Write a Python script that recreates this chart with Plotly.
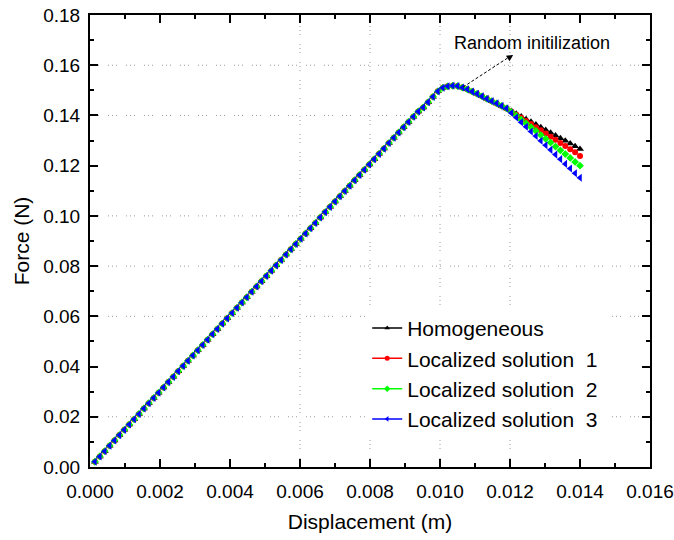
import plotly.graph_objects as go

# displacement (m) – sampled every 0.00014 m
displacement = [
    0.00014, 0.00028, 0.00042, 0.00056, 0.00070, 0.00084, 0.00098, 0.00112, 0.00126, 0.00140,
    0.00154, 0.00168, 0.00182, 0.00196, 0.00210, 0.00224, 0.00238, 0.00252, 0.00266, 0.00280,
    0.00294, 0.00308, 0.00322, 0.00336, 0.00350, 0.00364, 0.00378, 0.00392, 0.00406, 0.00420,
    0.00434, 0.00448, 0.00462, 0.00476, 0.00490, 0.00504, 0.00518, 0.00532, 0.00546, 0.00560,
    0.00574, 0.00588, 0.00602, 0.00616, 0.00630, 0.00644, 0.00658, 0.00672, 0.00686, 0.00700,
    0.00714, 0.00728, 0.00742, 0.00756, 0.00770, 0.00784, 0.00798, 0.00812, 0.00826, 0.00840,
    0.00854, 0.00868, 0.00882, 0.00896, 0.00910, 0.00924, 0.00938, 0.00952, 0.00966, 0.00980,
    0.00994, 0.01008, 0.01022, 0.01036, 0.01050, 0.01064, 0.01078, 0.01092, 0.01106, 0.01120,
    0.01134, 0.01148, 0.01162, 0.01176, 0.01190, 0.01204, 0.01218, 0.01232, 0.01246, 0.01260,
    0.01274, 0.01288, 0.01302, 0.01316, 0.01330, 0.01344, 0.01358, 0.01372, 0.01386, 0.01400,
]

# force (N) shared by all four runs up to the start of softening
force_common = [
    0.0021, 0.0042, 0.0063, 0.0085, 0.0106, 0.0127, 0.0148, 0.0169, 0.0190, 0.0211,
    0.0233, 0.0254, 0.0275, 0.0296, 0.0317, 0.0338, 0.0359, 0.0381, 0.0402, 0.0423,
    0.0444, 0.0465, 0.0486, 0.0507, 0.0529, 0.0550, 0.0571, 0.0592, 0.0613, 0.0634,
    0.0655, 0.0676, 0.0698, 0.0719, 0.0740, 0.0761, 0.0782, 0.0803, 0.0824, 0.0846,
    0.0867, 0.0888, 0.0909, 0.0930, 0.0951, 0.0972, 0.0994, 0.1015, 0.1036, 0.1057,
    0.1078, 0.1099, 0.1120, 0.1142, 0.1163, 0.1184, 0.1205, 0.1226, 0.1247, 0.1268,
    0.1290, 0.1311, 0.1332, 0.1353, 0.1374, 0.1395, 0.1416, 0.1432, 0.1453, 0.1474,
    0.1496, 0.1510, 0.1516, 0.1518, 0.1517, 0.1511, 0.1504, 0.1495, 0.1486, 0.1476,
    0.1466, 0.1457, 0.1448, 0.1438, 0.1428,
]

# softening tails (last 15 points)
tail_homogeneous = [0.1418, 0.1407, 0.1396, 0.1385, 0.1375, 0.1364, 0.1353, 0.1342,
                    0.1331, 0.1320, 0.1309, 0.1299, 0.1288, 0.1277, 0.1266]
tail_local1 = [0.1416, 0.1403, 0.1391, 0.1378, 0.1366, 0.1353, 0.1341, 0.1328,
               0.1315, 0.1303, 0.1290, 0.1278, 0.1265, 0.1253, 0.1238]
tail_local2 = [0.1414, 0.1399, 0.1383, 0.1368, 0.1353, 0.1338, 0.1322, 0.1307,
               0.1292, 0.1276, 0.1261, 0.1246, 0.1231, 0.1215, 0.1200]
tail_local3 = [0.1410, 0.1392, 0.1373, 0.1355, 0.1336, 0.1318, 0.1299, 0.1281,
               0.1263, 0.1244, 0.1226, 0.1207, 0.1189, 0.1170, 0.1152]

series = [
    ("Homogeneous", tail_homogeneous, "#000000", "triangle-up", 7),
    ("Localized solution\u00a0\u00a01", tail_local1, "#ff0000", "circle", 6),
    ("Localized solution\u00a0\u00a02", tail_local2, "#00ff00", "diamond", 6),
    ("Localized solution\u00a0\u00a03", tail_local3, "#0000ff", "triangle-left", 7),
]

x_grid = [0.006, 0.008, 0.010, 0.012]
y_grid = [0.02, 0.06, 0.08, 0.10, 0.14, 0.16]

FONT = "Liberation Sans, Arial, sans-serif"
GRID_DASH = "1px,3px,1px,3px,1px,9px"

fig = go.Figure()

# symbols only on the plot, line+symbol in the legend
for name, tail, color, symbol, size in series:
    fig.add_trace(
        go.Scatter(
            x=displacement,
            y=force_common + tail,
            mode="markers",
            name=name,
            marker=dict(color=color, symbol=symbol, size=size),
            showlegend=False,
        )
    )
for name, tail, color, symbol, size in series:
    fig.add_trace(
        go.Scatter(
            x=[None],
            y=[None],
            mode="lines+markers",
            name=name,
            line=dict(color=color, width=1.5),
            marker=dict(color=color, symbol=symbol, size=5),
        )
    )

# dotted grid (only the lines visible in the original)
for gx in x_grid:
    fig.add_shape(type="line", xref="x", yref="paper", x0=gx, x1=gx, y0=0, y1=1,
                  line=dict(color="#9a9a9a", width=1, dash=GRID_DASH), layer="below")
for gy in y_grid:
    fig.add_shape(type="line", xref="paper", yref="y", x0=0, x1=1, y0=gy, y1=gy,
                  line=dict(color="#9a9a9a", width=1, dash=GRID_DASH), layer="below")

# "Random initilization" callout
fig.add_shape(type="line", xref="x", yref="y", x0=0.01066, y0=0.1513, x1=0.01200, y1=0.1635,
              line=dict(color="#000000", width=1, dash="3px,2px"))
fig.add_annotation(x=0.01209, y=0.1641, ax=0.01195, ay=0.1628, xref="x", yref="y",
                   axref="x", ayref="y", text="", showarrow=True,
                   arrowhead=2, arrowsize=1.3, arrowwidth=1, arrowcolor="#000000")
fig.add_annotation(x=0.01263, y=0.1688, xref="x", yref="y", text="Random initilization",
                   showarrow=False, font=dict(family=FONT, size=18, color="#000000"))

fig.update_layout(
    width=674,
    height=540,
    paper_bgcolor="#FFFFFF",
    plot_bgcolor="#FFFFFF",
    margin=dict(l=90, r=24, t=15, b=73),
    font=dict(family=FONT, color="#000000"),
    showlegend=True,
    legend=dict(
        x=0.495, y=0.352, xanchor="left", yanchor="top",
        bgcolor="#FFFFFF", borderwidth=0,
        font=dict(family=FONT, size=21, color="#000000"),
    ),
)

fig.update_xaxes(
    range=[0, 0.016],
    dtick=0.002,
    tickformat=".3f",
    showgrid=False,
    zeroline=False,
    automargin=False,
    ticklabeloverflow="allow",
    showline=True, linecolor="#000000", linewidth=2, mirror="allticks",
    ticks="inside", ticklen=8, tickwidth=2, tickcolor="#000000",
    minor=dict(dtick=0.001, ticks="inside", ticklen=4, tickwidth=2, tickcolor="#000000"),
    tickfont=dict(family=FONT, size=19, color="#000000"),
    ticklabelstandoff=6,
    title=dict(text="Displacement (m)", font=dict(family=FONT, size=21, color="#000000"), standoff=14),
)

fig.update_yaxes(
    range=[0, 0.18],
    dtick=0.02,
    tickformat=".2f",
    showgrid=False,
    zeroline=False,
    automargin=False,
    ticklabeloverflow="allow",
    showline=True, linecolor="#000000", linewidth=2, mirror="allticks",
    ticks="inside", ticklen=8, tickwidth=2, tickcolor="#000000",
    minor=dict(dtick=0.01, ticks="inside", ticklen=4, tickwidth=2, tickcolor="#000000"),
    tickfont=dict(family=FONT, size=19, color="#000000"),
    ticklabelstandoff=4,
    title=dict(text="Force (N)", font=dict(family=FONT, size=21, color="#000000"), standoff=8),
)

# drop the default page margin so the figure fills the window
fig.write_html("out.html", config={"displayModeBar": False},
               post_script="document.body.style.margin = '0';")
